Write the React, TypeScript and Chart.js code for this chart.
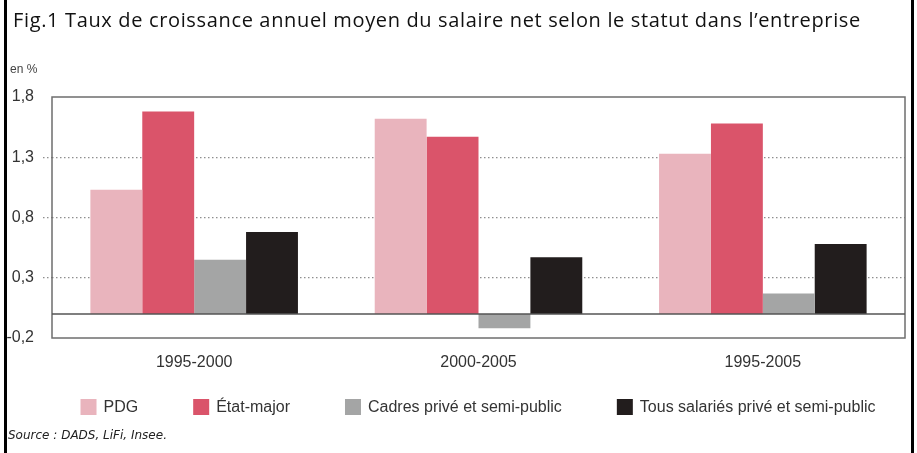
import React, { useEffect, useRef } from "react";
import { Chart, registerables } from "chart.js";

Chart.register(...registerables);

const categories = ["1995-2000", "2000-2005", "1995-2005"];
const seriesNames = ["PDG", "État-major", "Cadres privé et semi-public", "Tous salariés privé et semi-public"];
const pdg = [1.03, 1.62, 1.33];
const etatMajor = [1.68, 1.47, 1.58];
const cadres = [0.45, -0.12, 0.17];
const tousSalaries = [0.68, 0.47, 0.58];
const yTicks = [-0.2, 0.3, 0.8, 1.3, 1.8];
const colors = ["#e9b4bd", "#da546a", "#a4a5a5", "#221d1d"];

const SANS = "'Liberation Sans', Arial, sans-serif";
const GRID_COLOR = "#8f8f8f";
const isInner = (c: any) => c.tick && [0.3, 0.8, 1.3].some((v) => Math.abs(c.tick.value - v) < 1e-6);

const framePlugin = {
  id: "frameZero",
  afterDatasetsDraw(chart: any) {
    const { ctx, chartArea } = chart;
    const y = chart.scales.y;
    ctx.save();
    ctx.strokeStyle = "#6e6e6e";
    ctx.lineWidth = 1.5;
    ctx.strokeRect(chartArea.left, chartArea.top, chartArea.right - chartArea.left, chartArea.bottom - chartArea.top);
    const y0 = y.getPixelForValue(0);
    ctx.strokeStyle = "#555";
    ctx.lineWidth = 1.5;
    ctx.beginPath();
    ctx.moveTo(chartArea.left, y0);
    ctx.lineTo(chartArea.right, y0);
    ctx.stroke();
    ctx.restore();
  },
};

const legendPlugin = {
  id: "bottomLegend",
  afterDraw(chart: any, _args: any, opts: any) {
    const { ctx } = chart;
    const box = opts.box ?? 16;
    const textGap = opts.textGap ?? 7;
    const gap = opts.gap ?? 55;
    ctx.save();
    ctx.font = `${opts.size ?? 16}px ${SANS}`;
    const items = chart.data.datasets.map((ds: any) => ({
      label: ds.label,
      color: ds.backgroundColor,
      w: box + textGap + ctx.measureText(ds.label).width,
    }));
    const total = items.reduce((s: number, it: any) => s + it.w, 0) + gap * (items.length - 1);
    let x = opts.centerX - total / 2;
    const yc = opts.centerY;
    ctx.textBaseline = "middle";
    ctx.textAlign = "left";
    for (const it of items) {
      ctx.fillStyle = it.color;
      ctx.fillRect(x, yc - box / 2, box, box);
      ctx.fillStyle = "#333";
      ctx.fillText(it.label, x + box + textGap, yc + 1);
      x += it.w + gap;
    }
    ctx.restore();
  },
};

export default function App() {
  const ref = useRef<HTMLCanvasElement>(null);
  useEffect(() => {
    document.body.style.margin = "0";
    const data = [pdg, etatMajor, cadres, tousSalaries];
    const chart = new Chart(ref.current!, {
      type: "bar",
      data: {
        labels: categories,
        datasets: seriesNames.map((name, i) => ({
          label: name,
          data: data[i],
          backgroundColor: colors[i],
          borderWidth: 0,
          categoryPercentage: 0.73,
          barPercentage: 1.0,
        })),
      },
      plugins: [framePlugin, legendPlugin],
      options: {
        animation: false,
        responsive: false,
        maintainAspectRatio: false,
        layout: { padding: { left: 4, right: 12, top: 97, bottom: 63 } },
        plugins: {
          legend: { display: false },
          tooltip: { enabled: false },
          bottomLegend: { centerX: 478, centerY: 407, gap: 55, box: 16, textGap: 7, size: 16 },
        } as any,
        scales: {
          x: {
            grid: { display: false, drawTicks: false },
            border: { display: false },
            ticks: { color: "#333", font: { family: SANS, size: 16 }, padding: 15 },
            afterFit(scale: any) {
              scale.height = 52;
            },
          },
          y: {
            min: -0.2,
            max: 1.8,
            grid: {
              color: (c: any) => (isInner(c) ? GRID_COLOR : "rgba(0,0,0,0)"),
              tickColor: (c: any) => (isInner(c) ? GRID_COLOR : "rgba(0,0,0,0)"),
              lineWidth: 1.2,
              tickLength: 9,
              tickBorderDash: [1.5, 2.5],
            } as any,
            border: { display: false, dash: [1.5, 2.5] } as any,
            ticks: {
              color: "#333",
              font: { family: SANS, size: 16 },
              padding: 9,
              callback: (v: any) => String(Math.round(Number(v) * 10) / 10).replace(".", ","),
            },
            afterBuildTicks(scale: any) {
              scale.ticks = yTicks.map((v) => ({ value: v }));
            },
            afterFit(scale: any) {
              scale.width = 48;
            },
          },
        },
      } as any,
    });
    return () => chart.destroy();
  }, []);

  return (
    <div style={{ position: "relative", width: 917, height: 453, background: "#fff", overflow: "hidden" }}>
      <canvas ref={ref} width={917} height={453} style={{ position: "absolute", left: 0, top: 0, width: 917, height: 453 }} />
      <div style={{ position: "absolute", left: 13, top: 6, fontFamily: "'Open Sans', Lato, sans-serif", fontSize: 20, letterSpacing: 0.65, color: "#111", whiteSpace: "nowrap" }}>
        Fig.1 Taux de croissance annuel moyen du salaire net selon le statut dans l’entreprise
      </div>
      <div style={{ position: "absolute", left: 10, top: 62, fontFamily: SANS, fontSize: 12, color: "#444" }}>en %</div>
      <div style={{ position: "absolute", left: 8, top: 428, fontFamily: "'DejaVu Sans', Verdana, sans-serif", fontStyle: "italic", fontSize: 12, color: "#222", whiteSpace: "nowrap" }}>
        Source : DADS, LiFi, Insee.
      </div>
      <div style={{ position: "absolute", left: 4, top: 0, width: 3, height: 453, background: "#000" }} />
      <div style={{ position: "absolute", left: 911, top: 0, width: 3, height: 453, background: "#000" }} />
    </div>
  );
}
